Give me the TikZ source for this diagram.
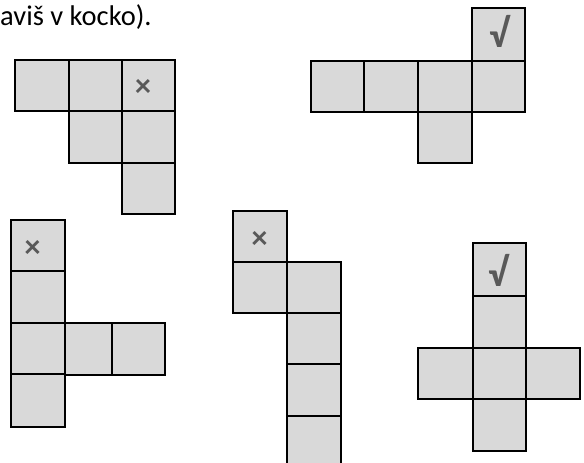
\documentclass[tikz,border=0pt]{standalone}
\usepackage{fontspec}
\setmainfont{Carlito}
\begin{document}
\begin{tikzpicture}[x=1pt,y=-1pt,
  cell/.style={draw=black,fill=cellgray,line width=1.6pt},
  cross/.style={text=markgray,inner sep=0pt,font=\bfseries\fontsize{32}{32}\selectfont},
  tick/.style={text=markgray,inner sep=0pt,font=\bfseries\fontsize{40}{40}\selectfont}]
\definecolor{cellgray}{HTML}{D9D9D9}
\definecolor{markgray}{HTML}{595959}
\useasboundingbox (0,0) rectangle (584,463);
\clip (0,0) rectangle (584,463);

% caption fragment
\node[anchor=base west,inner sep=0pt,font=\fontsize{28.5}{28.5}\selectfont] (caption) at (0,25) {aviš v kocko).};

% net 1
\foreach \x/\y/\X/\Y in {15/60/69/111, 69/60/122/111, 122/60/175/111,
                         69/111/122/163, 122/111/175/163, 122/163/175/214}
  \draw[cell] (\x,\y) rectangle (\X,\Y);
\node[cross] (crossA) at (143,88) {×};

% net 2
\foreach \x/\y/\X/\Y in {472/8/525/61, 311/61/364/112, 364/61/418/112,
                         418/61/472/112, 472/61/525/112, 418/112/472/163}
  \draw[cell] (\x,\y) rectangle (\X,\Y);
\node[tick] (checkA) at (499.5,31) {√};

% net 3
\foreach \x/\y/\X/\Y in {11/220/65/271, 11/271/65/323, 11/323/65/374, 11/374/65/427,
                         65/323/112/375, 112/323/165/375}
  \draw[cell] (\x,\y) rectangle (\X,\Y);
\node[cross] (crossB) at (32.5,249) {×};

% net 4
\foreach \x/\y/\X/\Y in {233/211/287/262, 233/262/287/313,
                         287/262/341/313, 287/313/341/364, 287/364/341/416, 287/416/341/470}
  \draw[cell] (\x,\y) rectangle (\X,\Y);
\node[cross] (crossC) at (259.5,240) {×};

% net 5
\foreach \x/\y/\X/\Y in {473/243/526/296, 473/296/526/348, 473/348/526/399, 473/399/526/451,
                         418/348/473/399, 526/348/580/399}
  \draw[cell] (\x,\y) rectangle (\X,\Y);
\node[tick] (checkB) at (498,270.5) {√};
\end{tikzpicture}
\end{document}
